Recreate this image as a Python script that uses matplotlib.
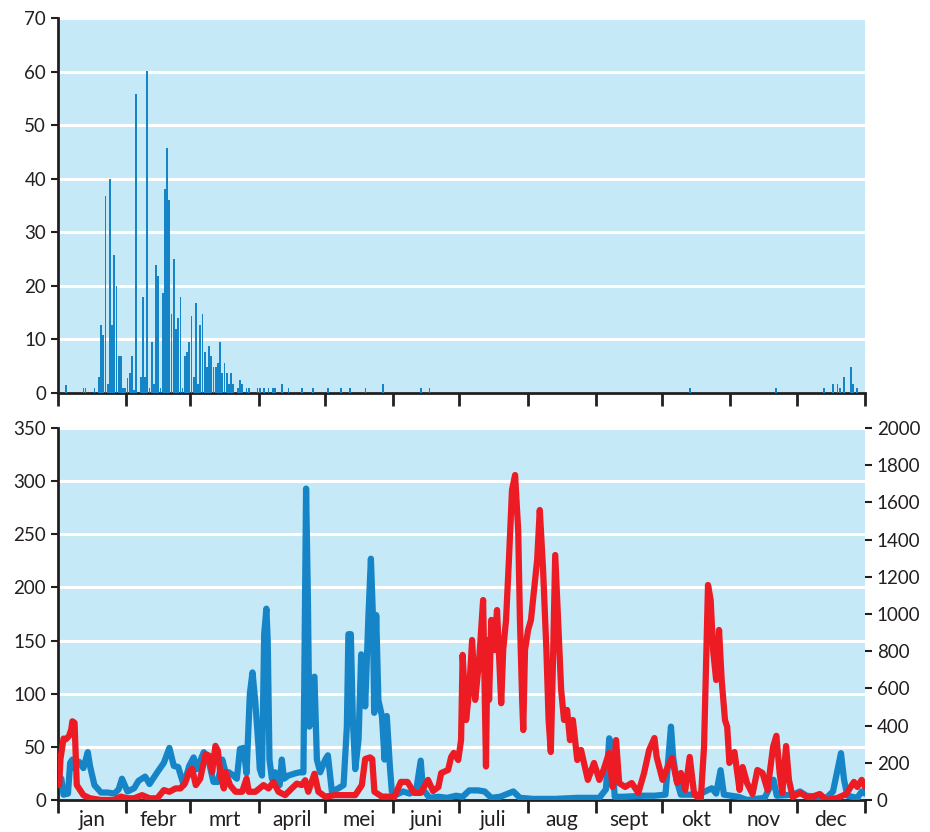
import matplotlib.pyplot as plt
import numpy as np

BG_COLOR = "#c6e9f8"
BLUE = "#1585c8"
RED = "#ed1c24"

MONTHS = ["jan", "febr", "mrt", "april", "mei", "juni", "juli", "aug", "sept", "okt", "nov", "dec"]
MONTH_STARTS = [0, 31, 60, 91, 121, 152, 182, 213, 244, 274, 305, 335, 366]

# bovenste paneel: dagen met een waarde (dag van het jaar, waarde)
bar_days = [3, 11, 12, 16, 18, 19, 20, 21, 22, 23, 24, 25, 26, 27, 28, 29, 30, 31, 32, 33, 34, 35,
            37, 38, 39, 40, 41, 42, 43, 44, 45, 46, 47, 48, 49, 50, 51, 52, 53, 54, 55, 56, 57,
            58, 59, 60, 61, 62, 63, 64, 65, 66, 67, 68, 69, 70, 71, 72, 73, 74, 75, 76, 77, 78,
            79, 81, 82, 83, 85, 86, 90, 91, 93, 95, 97, 98, 101, 104, 110, 115, 122, 128, 132,
            139, 147, 164, 168, 286, 325, 347, 351, 353, 354, 356, 359, 360, 362]
bar_values = [1.5, 1, 1, 1, 3, 12.7, 10.9, 36.8, 1.7, 39.9, 12.7, 25.8, 19.9, 7, 7, 1, 1, 2.8, 3.7, 7, 0.6, 55.9,
              3, 17.9, 3, 60.2, 1, 9.6, 1.7, 23.9, 21.9, 1, 18.6, 38, 45.8, 36, 14.8, 25, 11.9, 14, 17.9, 1, 7,
              7.6, 9.6, 14.3, 3, 16.8, 1.7, 12.7, 14.8, 7.6, 4.8, 8.8, 7, 4.8, 4.8, 5.6, 9.6, 3.7, 5.6, 3.7, 1.7,
              3.7, 1.7, 1, 2.5, 1.7, 1, 1, 1, 1, 1, 1, 1, 1, 1.7, 1, 1, 1, 1, 1, 1,
              1, 1.7, 1, 1, 1, 1, 1, 1.7, 1.7, 1, 3, 4.8, 1.7, 1]

# onderste paneel, blauw (linker as)
blue_days = [0, 1, 2, 4, 5, 6, 7, 9, 11, 13, 14, 16, 19, 22, 25, 27, 28.5, 31, 34, 36, 39, 41, 44.5, 47.5,
             50, 52, 54, 56.5, 59, 61, 62.5, 65.6, 68, 70, 72, 74, 75.5, 77, 79, 80.6, 82, 83.6, 85, 86.5,
             87.7, 88.9, 90.4, 91, 92, 93, 94, 94.6, 95.4, 96.5, 98, 100, 101, 102, 104, 107, 109, 110.8,
             112, 112.8, 113.5, 114.6, 115.8, 116.9, 118.4, 120.7, 121.9, 123.7, 126.7, 129, 130.5, 131.2,
             132.3, 133.2, 134.3, 135.8, 137, 138, 138.8, 140.3, 141.4, 142.3, 142.9, 143.8, 144.8, 146.4,
             147.6, 148.6, 150, 150.9, 153, 156, 159, 162, 164, 165, 168, 172, 176, 180, 183, 186, 190,
             193, 196, 200, 206, 209, 215, 225, 235, 245, 248, 249.5, 250.5, 252, 256, 265, 270, 275,
             277.5, 278.5, 280, 282, 290, 296, 298, 300, 301.5, 308, 312, 320, 324, 325.5, 333, 336, 339,
             348, 351, 354.6, 356, 357.5, 362, 364, 365.5]
blue_values = [22, 20, 5, 6, 35, 38, 30, 36, 30, 45, 32, 14, 7, 7, 6, 10, 20, 8, 11, 18, 22, 15, 26, 35,
               49, 32, 31, 14, 32, 40, 29, 45, 35, 17, 17, 38, 26, 26, 23, 20, 48, 49, 25, 100,
               120, 94, 51, 29, 23, 156, 180, 150, 38, 20, 26, 14, 38, 20, 23, 25, 26, 26,
               293, 193, 69, 113, 116, 38, 26, 38, 42, 8, 11, 14, 69, 156,
               156, 76, 29, 57, 137, 134, 88, 174, 227, 174, 82, 174, 94, 79,
               38, 79, 32, 8, 5, 8, 6, 10, 37, 10, 2, 3, 2, 4, 3, 9, 9,
               8, 2, 3, 8, 2, 1, 1, 2, 2, 10, 58, 50, 3, 3, 4, 4, 5,
               69, 40, 19, 5, 5, 11, 6, 28, 5, 3, 0, 2, 19, 4, 5, 8, 4,
               2, 8, 44, 19, 4, 2, 8, 6]

# onderste paneel, rood (rechter as)
red_days = [0, 0.6, 2, 3, 4.5, 5.5, 6, 7, 8, 9, 11, 14, 19, 25, 28, 31, 34, 37.6, 41, 44.5, 47.5, 50,
            52.8, 55, 57, 59, 60.3, 62, 64, 66.4, 68, 69.4, 70.9, 72, 73.2, 74.7, 75.5, 77.5, 80, 83, 85,
            86, 89, 92.7, 95, 97.2, 99.5, 102.5, 105.5, 107.8, 110, 111.6, 113, 115.8, 117.6, 120.7,
            125.2, 129.8, 134.3, 137.3, 138.8, 141, 142, 143, 146.4, 150.9, 152, 155, 158, 161, 164,
            167.3, 169.6, 172, 173.3, 176.4, 177.8, 179, 181, 182.3, 183, 184.6, 186, 187.3, 188.7,
            190.5, 192.3, 193.6, 194.3, 195, 196, 197.3, 198.6, 200, 200.5, 201.4, 202.7, 204, 205.4,
            206.8, 208.2, 209, 210, 210.5, 211.3, 212.7, 214, 215.4, 216.8, 218, 219.5, 221, 222, 223,
            224, 225, 226.3, 227.7, 229, 230.4, 231.7, 233, 234.5, 235, 236.7, 239.8, 242.6, 245, 246.9,
            249.4, 251, 252.6, 254, 256.7, 259.7, 262.7, 265.3, 267.6, 270, 271, 273.7, 276, 278, 280.3,
            282, 284, 286, 288, 291, 292.5, 294.3, 295.5, 296.6, 298, 299.3, 300.5, 302, 303, 304, 306.3,
            308.6, 310, 312, 314.5, 316.7, 319, 321.3, 323.8, 325.3, 326.8, 328, 329.7, 331, 332.7, 336,
            340, 345, 348, 353, 357, 359, 360.5, 362, 364, 365.5]
red_values = [80, 220, 330, 326, 344, 380, 423, 415, 80, 62, 26, 9, 0, 0, 18, 9, 9, 26, 9, 9, 53, 44,
              62, 62, 88, 150, 168, 80, 115, 247, 238, 150, 291, 265, 132, 62, 150, 80, 44, 44, 115,
              44, 44, 80, 62, 97, 44, 26, 62, 88, 80, 106, 44, 141, 44, 18,
              26, 26, 26, 80, 220, 229, 220, 44, 18, 18, 16, 97, 97, 38, 38,
              108, 48, 70, 145, 161, 231, 253, 215, 322, 780, 430, 591, 860, 538,
              753, 1075, 180, 860, 538, 968, 806, 1021, 645, 520, 806, 968, 1290, 1667,
              1747, 1452, 968, 538, 376, 806, 914, 968, 1129, 1290, 1559, 1237, 806, 430, 258,
              753, 1317, 968, 591, 430, 484, 322, 430, 269, 215, 269, 108, 199, 108, 161,
              253, 70, 322, 91, 70, 91, 38, 145, 269, 333, 231, 108, 177, 226, 91,
              145, 54, 231, 32, 0, 285, 1156, 1075, 806, 645, 914, 645, 430, 393, 199, 258,
              54, 177, 91, 32, 161, 145, 54, 285, 345, 145, 38, 290, 108, 16, 38,
              11, 32, 0, 11, 32, 70, 97, 70, 108, 70]


def style_axes(ax, show_labels):
    ax.set_facecolor(BG_COLOR)
    for side in ["top", "right"]:
        ax.spines[side].set_visible(False)
    for side in ["left", "bottom"]:
        ax.spines[side].set_linewidth(2)
        ax.spines[side].set_color("#231f20")
    ax.set_xlim(0, 366)
    ax.set_xticks(MONTH_STARTS)
    ax.set_xticklabels([])
    ax.tick_params(axis="x", which="major", direction="out", length=9, width=2, color="#231f20")
    ax.tick_params(axis="y", direction="out", length=5, width=1.5, color="#231f20",
                   labelsize=13.5, labelcolor="#231f20")
    ax.grid(axis="y", color="white", linewidth=2.2)
    ax.set_axisbelow(True)
    if show_labels:
        mids = [(MONTH_STARTS[i] + MONTH_STARTS[i + 1]) / 2 for i in range(12)]
        ax.set_xticks(mids, minor=True)
        ax.set_xticklabels(MONTHS, minor=True)
        ax.tick_params(axis="x", which="minor", length=0, labelsize=15, pad=7, labelcolor="#231f20")


def main():
    plt.rcParams["font.family"] = ["Lato", "DejaVu Sans"]
    fig = plt.figure(figsize=(9.3, 8.32), dpi=100)

    ax_top = fig.add_axes([0.0624, 0.5276, 0.8677, 0.4507])
    style_axes(ax_top, False)
    ax_top.bar(np.array(bar_days) + 0.5, bar_values, width=0.8, color=BLUE, zorder=3)
    ax_top.set_ylim(0, 70)
    ax_top.set_yticks(range(0, 71, 10))

    ax_bot = fig.add_axes([0.0624, 0.0385, 0.8677, 0.4471])
    style_axes(ax_bot, True)
    ax_bot.plot(np.array(blue_days) + 0.5, blue_values, color=BLUE, linewidth=4.5,
                solid_joinstyle="round", solid_capstyle="round", zorder=3)
    ax_bot.set_ylim(0, 350)
    ax_bot.set_yticks(range(0, 351, 50))

    ax_red = ax_bot.twinx()
    ax_red.plot(np.array(red_days) + 0.5, red_values, color=RED, linewidth=4.5,
                solid_joinstyle="round", solid_capstyle="round")
    ax_red.set_ylim(0, 2000)
    ax_red.set_yticks(range(0, 2001, 200))
    for side in ["top", "right", "left", "bottom"]:
        ax_red.spines[side].set_visible(False)
    ax_red.tick_params(axis="y", direction="out", length=5, width=1.5, color="#231f20",
                       labelsize=13.5, labelcolor="#231f20")
    ax_red.set_xlim(0, 366)

    fig.savefig("out.png", dpi=100)


main()
